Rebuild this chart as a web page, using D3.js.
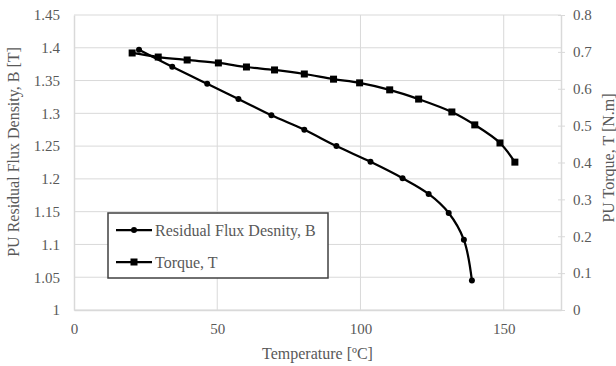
<!DOCTYPE html>
<html>
<head>
<meta charset="utf-8">
<script src="https://cdn.jsdelivr.net/npm/d3@7"></script>
<style>
  body { margin: 0; background: #fff; }
  text { font-family: "Liberation Serif", "Times New Roman", serif; fill: #595959; }
</style>
</head>
<body>
<div id="chart"></div>
<script>
// residual flux density B (left axis)
const tempB = [22.7, 34.3, 46.5, 57.4, 68.9, 80.4, 91.6, 103.5, 114.7, 123.8, 130.8, 136.1, 138.9];
const fluxB = [1.397, 1.371, 1.345, 1.322, 1.297, 1.275, 1.250, 1.226, 1.201, 1.177, 1.148, 1.107, 1.045];
// torque T (right axis)
const tempT = [20.3, 29.4, 39.5, 50.4, 60.2, 70.0, 80.4, 90.6, 99.7, 110.2, 120.3, 131.9, 139.9, 148.7, 153.9];
const torqueT = [0.697, 0.686, 0.678, 0.670, 0.659, 0.651, 0.640, 0.626, 0.616, 0.597, 0.572, 0.537, 0.502, 0.453, 0.401];

const xTicks = [0, 50, 100, 150];
const yLeftTicks = [1, 1.05, 1.1, 1.15, 1.2, 1.25, 1.3, 1.35, 1.4, 1.45];
const yRightTicks = [0, 0.1, 0.2, 0.3, 0.4, 0.5, 0.6, 0.7, 0.8];

const width = 616, height = 366;
const margin = {top: 15, right: 55, bottom: 56, left: 74};

const svg = d3.select("#chart").append("svg")
    .attr("width", width)
    .attr("height", height)

const x = d3.scaleLinear().domain([0, 170]).range([margin.left, width - margin.right]);
const yL = d3.scaleLinear().domain([1, 1.45]).range([height - margin.bottom, margin.top]);
const yR = d3.scaleLinear().domain([0, 0.8]).range([height - margin.bottom, margin.top]);

const gridColor = "#d9d9d9";

// horizontal grid
svg.append("g").selectAll("line")
    .data(yLeftTicks)
    .join("line")
    .attr("x1", margin.left).attr("x2", width - margin.right)
    .attr("y1", d => yL(d)).attr("y2", d => yL(d))
    .attr("stroke", gridColor).attr("stroke-width", 1)

// vertical grid
svg.append("g").selectAll("line")
    .data(xTicks.slice(1))
    .join("line")
    .attr("x1", d => x(d)).attr("x2", d => x(d))
    .attr("y1", margin.top).attr("y2", height - margin.bottom)
    .attr("stroke", gridColor).attr("stroke-width", 1)

// axes
const xAxis = svg.append("g")
    .attr("transform", "translate(0," + (height - margin.bottom) + ")")
    .call(d3.axisBottom(x).tickValues(xTicks).tickSize(0).tickPadding(13))
const yAxisL = svg.append("g")
    .attr("transform", "translate(" + margin.left + ",0)")
    .call(d3.axisLeft(yL).tickValues(yLeftTicks).tickSize(0).tickPadding(14).tickFormat(d3.format("")))
const yAxisR = svg.append("g")
    .attr("transform", "translate(" + (width - margin.right) + ",0)")
    .call(d3.axisRight(yR).tickValues(yRightTicks).tickSizeInner(4).tickSizeOuter(0).tickPadding(8).tickFormat(d3.format("")))

svg.selectAll(".domain").attr("stroke", gridColor).attr("stroke-width", 1.5)
yAxisR.selectAll(".tick line").attr("stroke", gridColor).attr("x1", -3)
svg.selectAll(".tick text")
    .style("font-family", "'Liberation Serif', serif")
    .style("font-size", "15px")
    .attr("fill", "#595959")

// axis titles
svg.append("text")
    .attr("x", (margin.left + width - margin.right) / 2)
    .attr("y", 359)
    .attr("text-anchor", "middle")
    .style("font-size", "16px")
    .text("Temperature [ºC]")

svg.append("text")
    .attr("transform", "translate(19,152) rotate(-90)")
    .attr("text-anchor", "middle")
    .style("font-size", "16px")
    .text("PU Residual Flux Density, B [T]")

svg.append("text")
    .attr("transform", "translate(614,158) rotate(-90)")
    .attr("text-anchor", "middle")
    .style("font-size", "16px")
    .text("PU Torque, T [N.m]")

// series
const dataB = tempB.map((t, i) => ({t: t, v: fluxB[i]}));
const dataT = tempT.map((t, i) => ({t: t, v: torqueT[i]}));

const lineB = d3.line().x(d => x(d.t)).y(d => yL(d.v)).curve(d3.curveCatmullRom);
const lineT = d3.line().x(d => x(d.t)).y(d => yR(d.v)).curve(d3.curveCatmullRom);

svg.append("path")
    .datum(dataT)
    .attr("d", lineT)
    .attr("fill", "none")
    .attr("stroke", "#000")
    .attr("stroke-width", 2.25)

svg.append("path")
    .datum(dataB)
    .attr("d", lineB)
    .attr("fill", "none")
    .attr("stroke", "#000")
    .attr("stroke-width", 2.25)

svg.selectAll("rect.markT")
    .data(dataT)
    .join("rect")
    .attr("class", "markT")
    .attr("x", d => x(d.t) - 3.5)
    .attr("y", d => yR(d.v) - 3.5)
    .attr("width", 7).attr("height", 7)
    .attr("fill", "#000")

svg.selectAll("circle.markB")
    .data(dataB)
    .join("circle")
    .attr("class", "markB")
    .attr("cx", d => x(d.t))
    .attr("cy", d => yL(d.v))
    .attr("r", 3)
    .attr("fill", "#000")

// legend
const legend = svg.append("g").attr("transform", "translate(108,213)")
legend.append("rect")
    .attr("x", 0).attr("y", 0)
    .attr("width", 220).attr("height", 65)
    .attr("fill", "#fff")
    .attr("stroke", "#404040")
    .attr("stroke-width", 1.5)

const legendItems = [
    {label: "Residual Flux Desnity, B", shape: "circle"},
    {label: "Torque, T", shape: "square"}
];
legendItems.forEach(function(item, i) {
    const yy = 17 + i * 32;
    legend.append("line")
        .attr("x1", 8).attr("x2", 44)
        .attr("y1", yy).attr("y2", yy)
        .attr("stroke", "#000").attr("stroke-width", 2.25)
    if (item.shape == "circle") {
        legend.append("circle").attr("cx", 26).attr("cy", yy).attr("r", 3).attr("fill", "#000")
    } else {
        legend.append("rect").attr("x", 22.5).attr("y", yy - 3.5).attr("width", 7).attr("height", 7).attr("fill", "#000")
    }
    legend.append("text")
        .attr("x", 47)
        .attr("y", yy)
        .attr("dy", "0.35em")
        .style("font-size", "16px")
        .attr("fill", "#262626")
        .text(item.label)
})
</script>
</body>
</html>
